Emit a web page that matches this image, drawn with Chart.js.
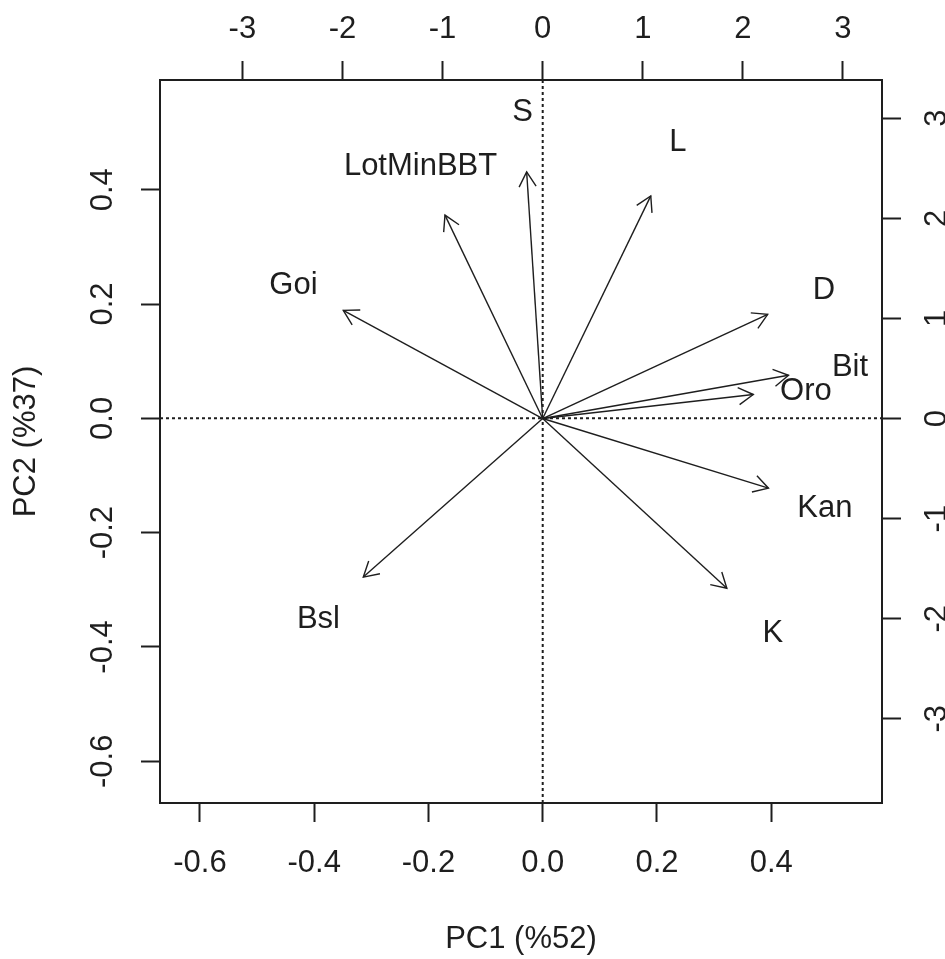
<!DOCTYPE html>
<html>
<head>
<meta charset="utf-8">
<script src="https://cdn.jsdelivr.net/npm/chart.js@4/dist/chart.umd.min.js"></script>
<style>
  html, body { margin: 0; padding: 0; background: #fff; overflow: hidden; }
  canvas { display: block; }
</style>
</head>
<body>
<canvas id="biplot" width="945" height="959"></canvas>
<script>
// Tick values for the four axes
const pc1Ticks = [-0.6, -0.4, -0.2, 0.0, 0.2, 0.4];
const pc2Ticks = [-0.6, -0.4, -0.2, 0.0, 0.2, 0.4];
const topTicks = [-3, -2, -1, 0, 1, 2, 3];
const rightTicks = [-3, -2, -1, 0, 1, 2, 3];

// Variable loadings (label positions, in the top/right axis units)
const variables = ['S', 'LotMinBBT', 'L', 'Goi', 'D', 'Bit', 'Oro', 'Kan', 'K', 'Bsl'];
const loadX = [-0.20, -1.22, 1.35, -2.49, 2.81, 3.07, 2.63, 2.82, 2.30, -2.24];
const loadY = [3.08, 2.54, 2.78, 1.35, 1.30, 0.54, 0.30, -0.87, -2.12, -1.98];

// Arrows are drawn to 80% of each loading, labels sit at the loading itself
const ARROW_SCALE = 0.8;

const FONT = { family: "'Liberation Sans', Arial, sans-serif", size: 31 };
const INK = '#1e1e1e';

const datasets = variables.map((name, i) => ({
  label: name,
  data: [{ x: 0, y: 0 }, { x: loadX[i] * ARROW_SCALE, y: loadY[i] * ARROW_SCALE }],
  xAxisID: 'x2',
  yAxisID: 'y2',
  showLine: true,
  borderColor: INK,
  borderWidth: 1.4,
  pointRadius: 0,
  fill: false
}));

// Dotted zero lines, open arrowheads and variable names
const biplotOverlay = {
  id: 'biplotOverlay',
  beforeDatasetsDraw(chart) {
    const { ctx, chartArea: a, scales } = chart;
    const x0 = scales.x.getPixelForValue(0);
    const y0 = scales.y.getPixelForValue(0);
    ctx.save();
    ctx.strokeStyle = INK;
    ctx.lineWidth = 2;
    ctx.setLineDash([3, 3]);
    ctx.beginPath();
    ctx.moveTo(a.left, y0); ctx.lineTo(a.right, y0);
    ctx.moveTo(x0, a.top); ctx.lineTo(x0, a.bottom);
    ctx.stroke();
    ctx.restore();
  },
  afterDatasetsDraw(chart) {
    const { ctx, scales } = chart;
    const headLen = 17, headAng = Math.PI / 6;
    ctx.save();
    ctx.strokeStyle = INK;
    ctx.lineWidth = 1.4;
    chart.data.datasets.forEach((ds, i) => {
      const pts = chart.getDatasetMeta(i).data;
      const p0 = pts[0], p1 = pts[1];
      const ang = Math.atan2(p1.y - p0.y, p1.x - p0.x);
      ctx.beginPath();
      ctx.moveTo(p1.x - headLen * Math.cos(ang - headAng), p1.y - headLen * Math.sin(ang - headAng));
      ctx.lineTo(p1.x, p1.y);
      ctx.lineTo(p1.x - headLen * Math.cos(ang + headAng), p1.y - headLen * Math.sin(ang + headAng));
      ctx.stroke();
    });
    // names are centred on the capital height of the font
    ctx.fillStyle = INK;
    ctx.font = FONT.size + 'px ' + FONT.family;
    ctx.textAlign = 'center';
    ctx.textBaseline = 'alphabetic';
    const capHalf = FONT.size * 0.358;
    variables.forEach((name, i) => {
      const px = scales.x2.getPixelForValue(loadX[i]);
      const py = scales.y2.getPixelForValue(loadY[i]);
      ctx.fillText(name, px, py + capHalf);
    });
    ctx.restore();
  }
};

function fixedTicks(values) {
  return scale => { scale.ticks = values.map(v => ({ value: v })); };
}

const axisCommon = {
  type: 'linear',
  border: { display: true, color: INK, width: 2 },
  grid: { drawOnChartArea: false, drawTicks: true, tickLength: 19, tickWidth: 2, tickColor: INK, color: INK },
};

new Chart(document.getElementById('biplot'), {
  type: 'scatter',
  data: { datasets },
  plugins: [biplotOverlay],
  options: {
    responsive: false,
    animation: false,
    events: [],
    layout: { padding: 0 },
    plugins: { legend: { display: false }, tooltip: { enabled: false } },
    scales: {
      x: {
        ...axisCommon,
        position: 'bottom',
        min: -0.670, max: 0.594,
        afterBuildTicks: fixedTicks(pc1Ticks),
        afterFit: s => { s.height = 156; },
        ticks: { color: INK, font: FONT, padding: 23, minRotation: 0, maxRotation: 0, autoSkip: false,
                 callback: v => v.toFixed(1) },
        title: { display: true, text: 'PC1 (%52)', color: INK, font: FONT, padding: { top: 4, bottom: 1 } }
      },
      y: {
        ...axisCommon,
        position: 'left',
        min: -0.673, max: 0.592,
        afterBuildTicks: fixedTicks(pc2Ticks),
        afterFit: s => { s.width = 160; },
        ticks: { color: INK, font: FONT, padding: 11, minRotation: 90, maxRotation: 90, autoSkip: false,
                 crossAlign: 'center', callback: v => v.toFixed(1) },
        title: { display: true, text: 'PC2 (%37)', color: INK, font: FONT, padding: { top: 8, bottom: 4 } }
      },
      x2: {
        ...axisCommon,
        position: 'top',
        min: -3.823, max: 3.390,
        afterBuildTicks: fixedTicks(topTicks),
        afterFit: s => { s.height = 80; },
        ticks: { color: INK, font: FONT, padding: 13, minRotation: 0, maxRotation: 0, autoSkip: false,
                 callback: v => String(v) }
      },
      y2: {
        ...axisCommon,
        position: 'right',
        min: -3.841, max: 3.382,
        afterBuildTicks: fixedTicks(rightTicks),
        afterFit: s => { s.width = 63; },
        ticks: { color: INK, font: FONT, padding: 23, minRotation: 90, maxRotation: 90, autoSkip: false,
                 crossAlign: 'center', callback: v => String(v) }
      }
    }
  }
});
</script>
</body>
</html>
